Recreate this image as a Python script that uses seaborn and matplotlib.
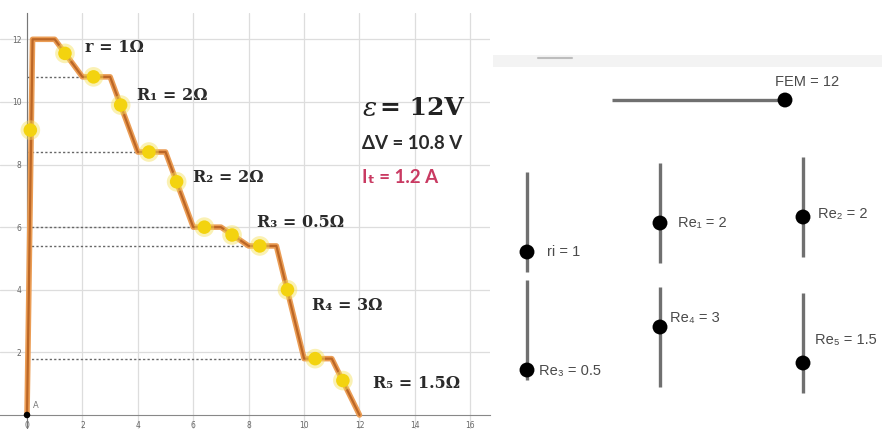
import numpy as np
import matplotlib
matplotlib.use("Agg")
import matplotlib.pyplot as plt
import seaborn as sns

# potential drop along the circuit (orange path)
path_x = [0, 0.2, 1, 2, 3, 4, 5, 6, 7, 8, 9, 10, 11, 12]
path_v = [0, 12, 12, 10.8, 10.8, 8.4, 8.4, 6.0, 6.0, 5.4, 5.4, 1.8, 1.8, 0]

# yellow points sitting on the path
pts_x = [0.12, 1.37, 2.4, 3.38, 4.4, 5.4, 6.4, 7.4, 8.4, 9.4, 10.4, 11.4]
pts_v = [9.1, 11.55, 10.8, 9.9, 8.4, 7.45, 6.0, 5.75, 5.4, 4.0, 1.8, 1.1]

# dotted reference levels and where they end
level_v = [10.8, 8.4, 6.0, 5.4, 1.8]
level_end = [2, 4, 6, 8, 10]

# resistor labels
res_labels = ["r = 1Ω", "R₁ = 2Ω", "R₂ = 2Ω", "R₃ = 0.5Ω", "R₄ = 3Ω", "R₅ = 1.5Ω"]
res_label_x = [2.09, 3.97, 5.99, 8.30, 10.29, 12.49]
res_label_y = [11.73, 10.22, 7.60, 6.16, 3.51, 1.02]

xticks = [0, 2, 4, 6, 8, 10, 12, 14, 16]
yticks = [2, 4, 6, 8, 10, 12]

# sliders (values, range 0..5 for the vertical ones)
slider_names = ["ri = 1", "Re₁ = 2", "Re₂ = 2", "Re₃ = 0.5", "Re₄ = 3", "Re₅ = 1.5"]
slider_vals = [1, 2, 2, 0.5, 3, 1.5]
slider_max = 5
fem_val = 12
fem_max = 12

# slider layout in pixels of the right panel
slider_base_x = [527, 660, 803, 527, 660, 803]
slider_base_y = [272, 263, 257, 380, 387, 393]
slider_len = 100
label_dx = [20, 18, 15, 12, 10, 12]
label_dy = [0, 0, -3, 1, -9, -23]

sns.set_style("white")
plt.rcParams["font.family"] = ["DejaVu Sans"]

fig = plt.figure(figsize=(8.82, 4.29), dpi=100)
ax = fig.add_axes([0, 0, 490 / 882, 416 / 429])

ax.set_xlim(-0.975, 16.71)
ax.set_ylim(-0.447, 12.84)
ax.set_xticks(xticks)
ax.set_yticks(yticks)
ax.grid(True, color="#dddddd", lw=0.9)
for s in ["top", "right"]:
    ax.spines[s].set_visible(False)
ax.spines["left"].set_position(("data", 0))
ax.spines["bottom"].set_position(("data", 0))
ax.spines["left"].set_color("#777777")
ax.spines["bottom"].set_color("#888888")
ax.tick_params(labelsize=5.5, colors="#666666", length=0, pad=4)

ax.hlines(level_v, 0, level_end, colors="#666666", linestyles=(0, (1.6, 1.6)), lw=1.0, zorder=2)

sns.lineplot(x=path_x, y=path_v, sort=False, estimator=None, color="#eb9d55", lw=4.0, ax=ax, zorder=3)
sns.lineplot(x=path_x, y=path_v, sort=False, estimator=None, color="#bb6626", lw=1.6, ax=ax, zorder=4)

sns.scatterplot(x=pts_x, y=pts_v, s=200, color="#f6e05a", alpha=0.45, edgecolor="none", ax=ax, zorder=5)
sns.scatterplot(x=pts_x, y=pts_v, s=95, color="#f3d30f", edgecolor="none", ax=ax, zorder=6)

sns.scatterplot(x=[0], y=[0], s=22, color="black", edgecolor="none", ax=ax, zorder=7)
ax.text(0.22, 0.22, "A", fontsize=6, color="#777777")

for lab, lx, ly in zip(res_labels, res_label_x, res_label_y):
    ax.text(lx, ly, lab, fontsize=11.5, fontweight="bold", family=["DejaVu Serif"],
            color="#2a2a2a", va="center", ha="left", zorder=8)

ax.text(12.1, 9.8, "ε", fontsize=19, style="italic", family=["DejaVu Serif"], color="#222222", va="center")
ax.text(12.75, 9.8, "= 12V", fontsize=18, fontweight="bold", family=["DejaVu Serif"], color="#222222", va="center")
ax.text(12.1, 8.68, "ΔV = 10.8 V", fontsize=13.5, fontweight="bold", family=["Lato", "DejaVu Sans"],
        color="#2a2a2a", va="center")
ax.text(12.1, 7.57, "Iₜ = 1.2 A", fontsize=13.5, fontweight="bold", family=["Lato", "DejaVu Sans"],
        color="#c93a62", va="center")

# right panel: sliders
ax2 = fig.add_axes([490 / 882, 0, 392 / 882, 1])
ax2.set_xlim(490, 882)
ax2.set_ylim(429, 0)
ax2.axis("off")

ax2.fill_between([493, 882], 55, 67, color="#f3f3f3", lw=0)
ax2.plot([538, 572], [58, 58], color="#bdbdbd", lw=1.5)

fem_x0, fem_x1, fem_y = 612, 785, 100
fem_knob = fem_x0 + (fem_x1 - fem_x0) * fem_val / fem_max
ax2.plot([fem_x0, fem_x1], [fem_y, fem_y], color="#707070", lw=2.4, solid_capstyle="butt")
sns.scatterplot(x=[fem_knob], y=[fem_y], s=115, color="black", edgecolor="none", ax=ax2, zorder=5)
ax2.text(775, 82, "FEM = 12", fontsize=10.5, color="#4a4a4a", va="center",
         family=["Liberation Sans", "DejaVu Sans"])

for name, val, bx, by, dx, dy in zip(slider_names, slider_vals, slider_base_x, slider_base_y, label_dx, label_dy):
    ax2.plot([bx, bx], [by, by - slider_len], color="#707070", lw=2.4, solid_capstyle="butt")
    ky = by - slider_len * val / slider_max
    sns.scatterplot(x=[bx], y=[ky], s=115, color="black", edgecolor="none", ax=ax2, zorder=5)
    ax2.text(bx + dx, ky + dy, name, fontsize=10.5, color="#4a4a4a", va="center",
             family=["Liberation Sans", "DejaVu Sans"])

fig.savefig("out.png", dpi=100)
